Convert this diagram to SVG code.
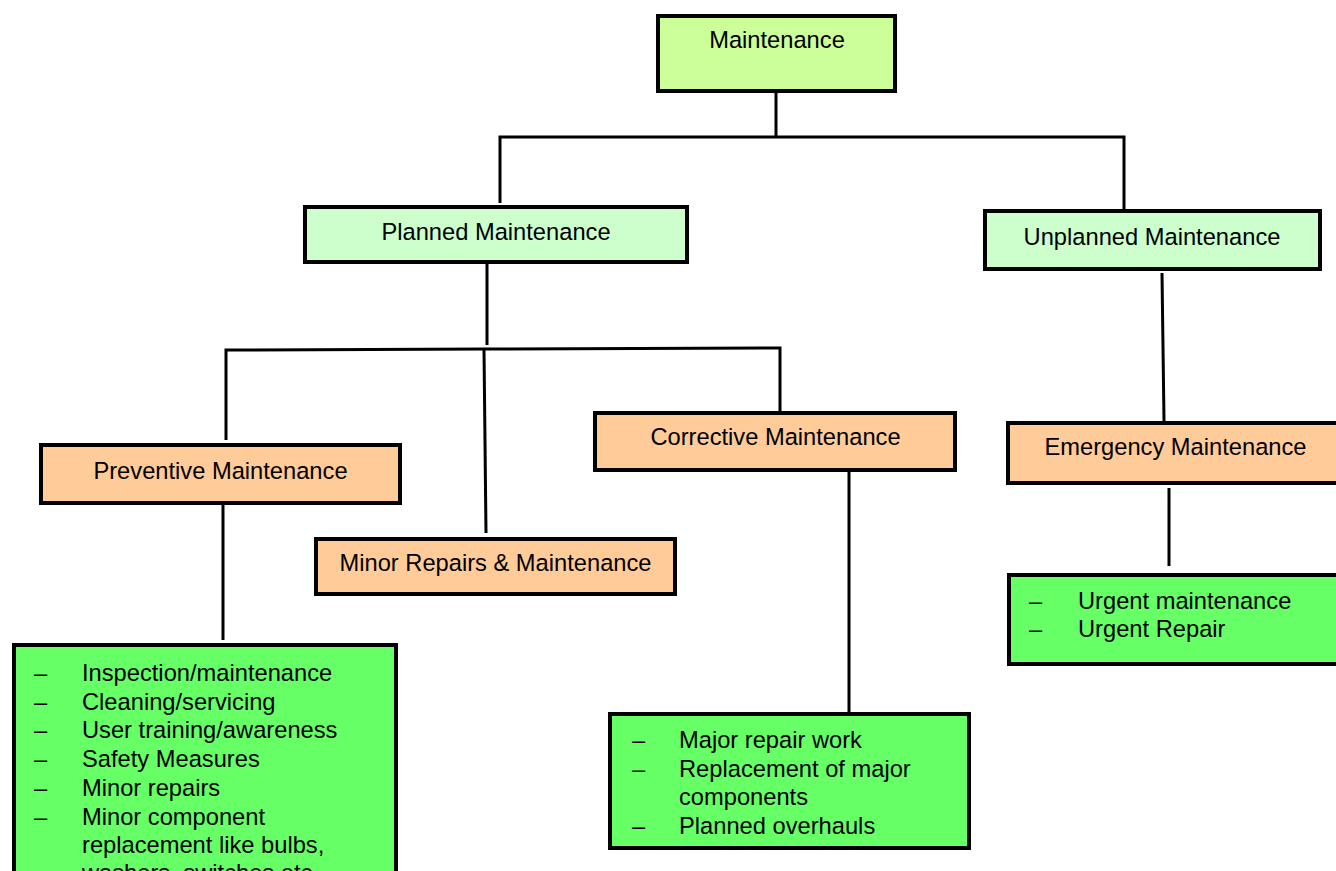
<svg xmlns="http://www.w3.org/2000/svg" width="1336" height="871" viewBox="0 0 1336 871">
<style>
.box{stroke:#000;stroke-width:4}
.root{fill:#CCFF99}
.l1{fill:#CCFFCC}
.l2{fill:#FFCC99}
.lst{fill:#66FF66}
text{font-family:"Liberation Sans",Arial,sans-serif;font-size:23.7px;fill:#000}
.c{text-anchor:middle}
.con line,.con polyline{stroke:#000;stroke-width:3;fill:none}
</style>
<rect width="1336" height="871" fill="#fff"/>
<g class="con" id="connectors">
<line x1="776" y1="93" x2="776" y2="137"/>
<polyline points="500,203 500,137 1124,137 1124,209"/>
<line x1="487" y1="264" x2="487" y2="345"/>
<polyline points="226,440 226,350 486,349 780,348 780,411"/>
<line x1="484" y1="350" x2="486" y2="533"/>
<line x1="223" y1="505" x2="223" y2="640"/>
<line x1="849" y1="472" x2="849" y2="712"/>
<line x1="1162" y1="273" x2="1164" y2="421"/>
<line x1="1169" y1="488" x2="1169" y2="566"/>
</g>
<g id="maintenance">
<rect class="box root" x="658" y="16" width="237" height="75"/>
<text class="c" x="777" y="48">Maintenance</text>
</g>
<g id="planned">
<rect class="box l1" x="305" y="207" width="382" height="55"/>
<text class="c" x="496" y="240">Planned Maintenance</text>
</g>
<g id="unplanned">
<rect class="box l1" x="985" y="211" width="335" height="58"/>
<text class="c" x="1152" y="245">Unplanned Maintenance</text>
</g>
<g id="preventive">
<rect class="box l2" x="41" y="445" width="359" height="58"/>
<text class="c" x="220.5" y="479">Preventive Maintenance</text>
</g>
<g id="minor">
<rect class="box l2" x="316" y="539" width="359" height="55"/>
<text class="c" x="495.5" y="571">Minor Repairs &amp; Maintenance</text>
</g>
<g id="corrective">
<rect class="box l2" x="595" y="413" width="360" height="57"/>
<text class="c" x="775.5" y="445">Corrective Maintenance</text>
</g>
<g id="emergency">
<rect class="box l2" x="1008" y="423" width="335" height="60"/>
<text class="c" x="1175.5" y="455">Emergency Maintenance</text>
</g>
<g id="urgent-list">
<rect class="box lst" x="1009" y="575" width="335" height="89"/>
<text x="1029" y="609">–</text><text x="1078" y="609">Urgent maintenance</text>
<text x="1029" y="637">–</text><text x="1078" y="637">Urgent Repair</text>
</g>
<g id="preventive-list">
<rect class="box lst" x="14" y="645" width="382" height="260"/>
<text x="34" y="681">–</text><text x="82" y="681">Inspection/maintenance</text>
<text x="34" y="710">–</text><text x="82" y="710">Cleaning/servicing</text>
<text x="34" y="738">–</text><text x="82" y="738">User training/awareness</text>
<text x="34" y="767">–</text><text x="82" y="767">Safety Measures</text>
<text x="34" y="796">–</text><text x="82" y="796">Minor repairs</text>
<text x="34" y="825">–</text><text x="82" y="825">Minor component</text>
<text x="82" y="853">replacement like bulbs,</text>
<text x="82" y="881">washers, switches etc.</text>
</g>
<g id="corrective-list">
<rect class="box lst" x="610" y="714" width="359" height="134"/>
<text x="632" y="748">–</text><text x="679" y="748">Major repair work</text>
<text x="632" y="777">–</text><text x="679" y="777">Replacement of major</text>
<text x="679" y="805">components</text>
<text x="632" y="834">–</text><text x="679" y="834">Planned overhauls</text>
</g>
</svg>
